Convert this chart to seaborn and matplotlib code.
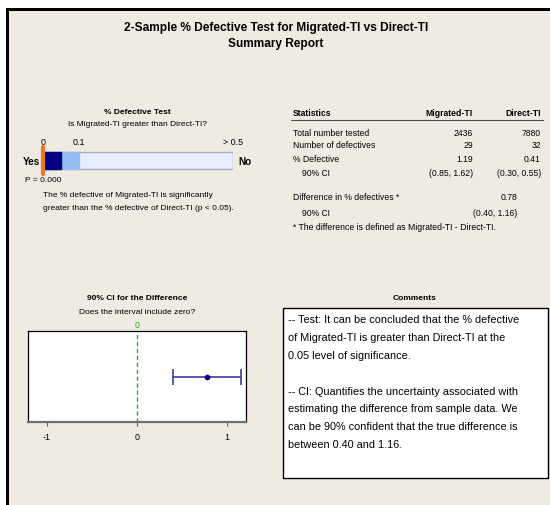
import numpy as np
import seaborn as sns
import matplotlib.pyplot as plt
from matplotlib.patches import Rectangle
from matplotlib.transforms import blended_transform_factory

sns.set_style("white")
plt.rcParams['font.family'] = ['Liberation Sans', 'DejaVu Sans']
plt.rcParams['text.color'] = 'black'
plt.rcParams['xtick.color'] = 'black'

# ---- data ----
groups = ['Migrated-TI', 'Direct-TI']
total_tested = [2436, 7880]
n_defectives = [29, 32]
pct_defective = [1.19, 0.41]
group_ci = [(0.85, 1.62), (0.30, 0.55)]
diff = 0.78
diff_ci = (0.40, 1.16)
p_value = 0.000

# p-value bar: band edges and tick labels
p_bands = [0.5, 0.1, 0.05]
p_band_colors = ['#E6EEFB', '#93BDF4', '#000080']
p_ticks = [0, 0.1, 0.5]
p_tick_labels = ['0', '0.1', '> 0.5']
ci_ticks = [-1, 0, 1]

comments = [
    "-- Test: It can be concluded that the % defective",
    "of Migrated-TI is greater than Direct-TI at the",
    "0.05 level of significance.",
    "",
    "-- CI: Quantifies the uncertainty associated with",
    "estimating the difference from sample data. We",
    "can be 90% confident that the true difference is",
    "between 0.40 and 1.16.",
]

W, H = 550, 506
BG = '#EFEBE1'
SMALL = 6.0   # left panel text
TABLE = 6.2   # statistics table text


def fx(x):
    return x / W


def fy(y):
    return 1 - y / H


def txt(x, y, s, size=SMALL, **kw):
    fig.text(fx(x), fy(y), s, fontsize=size, va='center', **kw)


fig = plt.figure(figsize=(W / 100, H / 100), dpi=100)
fig.patch.set_facecolor('white')
# beige panel with black top/left border
fig.add_artist(Rectangle((fx(6), 0), 1, fy(9), transform=fig.transFigure,
                         facecolor='black', edgecolor='none', zorder=-2))
fig.add_artist(Rectangle((fx(9), 0), 1, fy(12), transform=fig.transFigure,
                         facecolor=BG, edgecolor='none', zorder=-1))

# ---- title ----
txt(276, 28, '2-Sample % Defective Test for Migrated-TI vs Direct-TI',
    size=8.6, ha='center', weight='bold')
txt(276, 44, 'Summary Report', size=8.6, ha='center', weight='bold')

# ---- % defective test panel ----
txt(137, 113, '% Defective Test', ha='center', weight='bold')
txt(137, 125, 'Is Migrated-TI greater than Direct-TI?', ha='center')

ax_p = fig.add_axes([fx(43), fy(175), fx(233) - fx(43), fy(148) - fy(175)])
ax_p.set_facecolor('none')
ax_p.set_xscale('function', functions=(
    lambda v: np.interp(v, [0, 0.1, 0.5], [0, 36, 190]),
    lambda v: np.interp(v, [0, 36, 190], [0, 0.1, 0.5])))
for edge, col in zip(p_bands, p_band_colors):
    ax_p.barh(0, edge, left=0, height=0.63, color=col,
              edgecolor='#A8B0C8' if edge == p_bands[0] else col, lw=1)
ax_p.axvline(p_value, color='#F07820', lw=3, clip_on=False)
ax_p.set_xlim(0, 0.5)
ax_p.set_ylim(-0.5, 0.5)
ax_p.xaxis.tick_top()
ax_p.set_xticks(p_ticks, p_tick_labels, fontsize=6.4)
ax_p.set_xticks([], minor=True)
ax_p.tick_params(axis='x', length=0, pad=1)
ax_p.set_yticks([])
for s in ax_p.spines.values():
    s.set_visible(False)

txt(40, 162, 'Yes', size=7.2, ha='right', weight='bold')
txt(238, 162, 'No', size=7.2, ha='left', weight='bold')
txt(25, 181, f'P = {p_value:.3f}')
txt(43, 196, 'The % defective of Migrated-TI is significantly')
txt(43, 209, 'greater than the % defective of Direct-TI (p < 0.05).')

# ---- statistics table ----
c0, c1, c2 = 293, 473, 541
txt(c0, 113, 'Statistics', size=TABLE, weight='bold')
txt(c1, 113, groups[0], size=TABLE, ha='right', weight='bold')
txt(c2, 113, groups[1], size=TABLE, ha='right', weight='bold')
fig.add_artist(plt.Line2D([fx(291), fx(543)], [fy(121), fy(121)],
                          color='#505050', lw=0.8))
rows = [
    ('Total number tested', [f'{v}' for v in total_tested], c0),
    ('Number of defectives', [f'{v}' for v in n_defectives], c0),
    ('% Defective', [f'{v:.2f}' for v in pct_defective], c0),
    ('90% CI', [f'({a:.2f}, {b:.2f})' for a, b in group_ci], c0 + 9),
]
for (label, vals, x0), y in zip(rows, [133, 146, 160, 173]):
    txt(x0, y, label, size=TABLE)
    txt(c1, y, vals[0], size=TABLE, ha='right')
    txt(c2, y, vals[1], size=TABLE, ha='right')
txt(c0, 198, 'Difference in % defectives *', size=TABLE)
txt(517, 198, f'{diff:.2f}', size=TABLE, ha='right')
txt(c0 + 9, 213, '90% CI', size=TABLE)
txt(517, 213, f'({diff_ci[0]:.2f}, {diff_ci[1]:.2f})', size=TABLE, ha='right')
txt(c0, 228, '* The difference is defined as Migrated-TI - Direct-TI.',
    size=TABLE)

# ---- CI panel ----
txt(137, 298, '90% CI for the Difference', ha='center', weight='bold')
txt(137, 313, 'Does the interval include zero?', ha='center')

ax_ci = fig.add_axes([fx(28), fy(423), fx(246) - fx(28), fy(332) - fy(423)])
ax_ci.set_facecolor('white')
ax_ci.axvline(0, color='#22B022', ls=(0, (3, 2)), lw=1)
ax_ci.errorbar(diff, 0.5, xerr=[[diff - diff_ci[0]], [diff_ci[1] - diff]],
               fmt='none', ecolor='#3C3CA0', elinewidth=1.2, capsize=6.1,
               capthick=1.2)
sns.scatterplot(x=[diff], y=[0.5], ax=ax_ci, color='#000080', s=14,
                edgecolor='#000080', zorder=5)
ax_ci.set_xlim(-1.21, 1.21)
ax_ci.set_ylim(0, 1)
ax_ci.set_xticks(ci_ticks, [str(t) for t in ci_ticks], fontsize=6.4)
ax_ci.tick_params(axis='x', length=3, width=0.8, pad=4, color='#606060',
                  direction='out', bottom=True)
ax_ci.set_yticks([])
for s in ax_ci.spines.values():
    s.set_color('black')
    s.set_linewidth(0.9)
ax_ci.spines['bottom'].set_color('#707070')
ax_ci.spines['bottom'].set_linewidth(1.6)
trans = blended_transform_factory(ax_ci.transData, ax_ci.transAxes)
ax_ci.text(0, 1.02, '0', transform=trans, color='#22B022', fontsize=6.4,
           ha='center', va='bottom')

# ---- comments ----
txt(415, 298, 'Comments', ha='center', weight='bold')
fig.add_artist(Rectangle((fx(283), fy(479)), fx(548) - fx(283),
                         fy(309) - fy(479), transform=fig.transFigure,
                         facecolor='white', edgecolor='black', lw=1))
for i, line in enumerate(comments):
    txt(288, 320 + i * 17.9, line, size=7.8, ha='left')

fig.savefig('out.png', dpi=100, facecolor=fig.get_facecolor())
